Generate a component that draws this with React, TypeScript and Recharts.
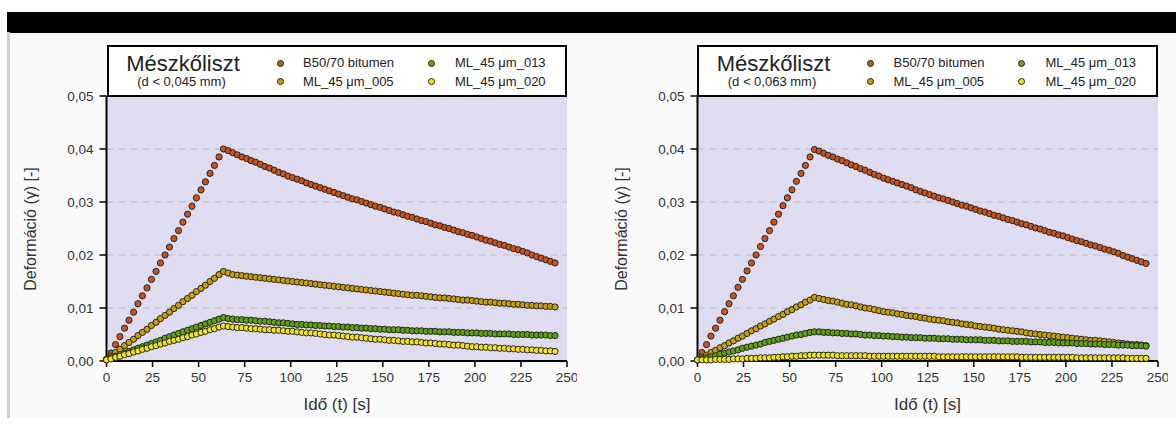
import { ScatterChart, Scatter, XAxis, YAxis, CartesianGrid } from "recharts";

// time stamps [s] shared by every series (loading phase up to ~63.5 s, then recovery)
const TIME = [
  0, 2.4, 4.9, 7.3, 9.8, 12.2, 14.7, 17.1, 19.5, 22, 24.4, 26.9, 29.3, 31.8, 34.2, 36.6, 39.1, 41.5, 44, 46.4, 48.8, 51.3, 53.7, 56.2, 58.6, 61.1, 63.5,
  66, 68.5, 71, 73.5, 76, 78.5, 81, 83.5, 86, 88.5, 91, 93.5, 96, 98.5,
  101, 103.5, 106, 108.5, 111, 113.5, 116, 118.5, 121, 123.5,
  126, 128.5, 131, 133.5, 136, 138.5, 141, 143.5, 146, 148.5,
  151, 153.5, 156, 158.5, 161, 163.5, 166, 168.5, 171, 173.5,
  176, 178.5, 181, 183.5, 186, 188.5, 191, 193.5, 196, 198.5,
  201, 203.5, 206, 208.5, 211, 213.5, 216, 218.5, 221, 223.5,
  226, 228.5, 231, 233.5, 236, 238.5, 241, 243.5,
];

const X_TICKS = [0, 25, 50, 75, 100, 125, 150, 175, 200, 225, 250];
const Y_TICKS = [0, 0.01, 0.02, 0.03, 0.04, 0.05];

const NAMES = ["B50/70 bitumen", "ML_45 μm_005", "ML_45 μm_013", "ML_45 μm_020"];
const COLORS = ["#cc5418", "#c9a106", "#62a20e", "#f4e31f"];

// d < 0,045 mm
const B5070_045 = [
  0.0002, 0.0015, 0.0031, 0.0046, 0.0062, 0.0077, 0.0092, 0.0108, 0.0123, 0.0138, 0.0154, 0.0169, 0.0185, 0.0200, 0.0215, 0.0231, 0.0246, 0.0262, 0.0277, 0.0292, 0.0308, 0.0323, 0.0338, 0.0354, 0.0369, 0.0385, 0.0400,
  0.0397, 0.0393, 0.0389, 0.0385, 0.0382, 0.0378, 0.0375, 0.0371, 0.0367, 0.0364, 0.0360, 0.0356, 0.0353, 0.0349,
  0.0346, 0.0343, 0.0340, 0.0336, 0.0333, 0.0330, 0.0327, 0.0324, 0.0321, 0.0318,
  0.0315, 0.0312, 0.0309, 0.0306, 0.0304, 0.0301, 0.0298, 0.0295, 0.0292, 0.0290,
  0.0287, 0.0284, 0.0281, 0.0279, 0.0276, 0.0273, 0.0271, 0.0268, 0.0265, 0.0263,
  0.0260, 0.0257, 0.0255, 0.0252, 0.0250, 0.0247, 0.0244, 0.0242, 0.0239, 0.0237,
  0.0234, 0.0231, 0.0228, 0.0226, 0.0223, 0.0220, 0.0218, 0.0215, 0.0212, 0.0210,
  0.0207, 0.0204, 0.0200, 0.0197, 0.0194, 0.0191, 0.0188, 0.0185,
];
const ML005_045 = [
  0.0003, 0.0009, 0.0016, 0.0022, 0.0029, 0.0035, 0.0041, 0.0048, 0.0054, 0.0060, 0.0067, 0.0073, 0.0080, 0.0086, 0.0092, 0.0099, 0.0105, 0.0112, 0.0118, 0.0124, 0.0131, 0.0137, 0.0143, 0.0150, 0.0156, 0.0163, 0.0169,
  0.0166, 0.0163, 0.0162, 0.0161, 0.0160, 0.0159, 0.0158, 0.0157, 0.0156, 0.0155, 0.0154, 0.0153, 0.0152, 0.0151,
  0.0150, 0.0149, 0.0148, 0.0147, 0.0146, 0.0145, 0.0144, 0.0143, 0.0142, 0.0141,
  0.0140, 0.0139, 0.0138, 0.0137, 0.0136, 0.0135, 0.0134, 0.0133, 0.0132, 0.0131,
  0.0130, 0.0129, 0.0128, 0.0127, 0.0126, 0.0125, 0.0124, 0.0124, 0.0123, 0.0122,
  0.0121, 0.0120, 0.0119, 0.0119, 0.0118, 0.0117, 0.0116, 0.0115, 0.0115, 0.0114,
  0.0113, 0.0112, 0.0111, 0.0111, 0.0110, 0.0109, 0.0109, 0.0108, 0.0107, 0.0107,
  0.0106, 0.0105, 0.0105, 0.0104, 0.0104, 0.0103, 0.0103, 0.0102,
];
const ML013_045 = [
  0.0003, 0.0006, 0.0009, 0.0012, 0.0015, 0.0018, 0.0021, 0.0024, 0.0027, 0.0030, 0.0033, 0.0036, 0.0039, 0.0043, 0.0046, 0.0049, 0.0052, 0.0055, 0.0058, 0.0061, 0.0064, 0.0067, 0.0070, 0.0073, 0.0076, 0.0079, 0.0082,
  0.0080, 0.0079, 0.0078, 0.0078, 0.0077, 0.0077, 0.0076, 0.0075, 0.0075, 0.0074, 0.0073, 0.0072, 0.0072, 0.0071,
  0.0070, 0.0069, 0.0069, 0.0068, 0.0068, 0.0067, 0.0067, 0.0066, 0.0066, 0.0065,
  0.0065, 0.0064, 0.0064, 0.0063, 0.0063, 0.0062, 0.0062, 0.0061, 0.0061, 0.0060,
  0.0060, 0.0059, 0.0059, 0.0059, 0.0058, 0.0058, 0.0057, 0.0057, 0.0057, 0.0056,
  0.0056, 0.0056, 0.0055, 0.0055, 0.0055, 0.0054, 0.0054, 0.0054, 0.0053, 0.0053,
  0.0053, 0.0052, 0.0052, 0.0052, 0.0051, 0.0051, 0.0051, 0.0051, 0.0050, 0.0050,
  0.0050, 0.0050, 0.0049, 0.0049, 0.0049, 0.0049, 0.0048, 0.0048,
];
const ML020_045 = [
  0.0002, 0.0004, 0.0007, 0.0009, 0.0012, 0.0014, 0.0017, 0.0019, 0.0022, 0.0024, 0.0027, 0.0029, 0.0032, 0.0034, 0.0037, 0.0039, 0.0041, 0.0044, 0.0046, 0.0049, 0.0051, 0.0054, 0.0056, 0.0059, 0.0061, 0.0064, 0.0066,
  0.0065, 0.0064, 0.0063, 0.0063, 0.0062, 0.0061, 0.0061, 0.0060, 0.0059, 0.0059, 0.0058, 0.0058, 0.0057, 0.0056,
  0.0056, 0.0055, 0.0054, 0.0053, 0.0053, 0.0052, 0.0051, 0.0050, 0.0049, 0.0049,
  0.0048, 0.0047, 0.0046, 0.0045, 0.0045, 0.0044, 0.0043, 0.0042, 0.0041, 0.0041,
  0.0040, 0.0039, 0.0039, 0.0038, 0.0037, 0.0037, 0.0036, 0.0036, 0.0035, 0.0034,
  0.0034, 0.0033, 0.0032, 0.0032, 0.0031, 0.0030, 0.0030, 0.0029, 0.0028, 0.0027,
  0.0027, 0.0026, 0.0026, 0.0025, 0.0025, 0.0024, 0.0024, 0.0023, 0.0023, 0.0022,
  0.0022, 0.0021, 0.0021, 0.0020, 0.0020, 0.0019, 0.0019, 0.0018,
];

// d < 0,063 mm
const B5070_063 = [
  0.0002, 0.0016, 0.0031, 0.0047, 0.0062, 0.0077, 0.0093, 0.0108, 0.0123, 0.0139, 0.0154, 0.0170, 0.0185, 0.0200, 0.0216, 0.0231, 0.0246, 0.0262, 0.0277, 0.0293, 0.0308, 0.0323, 0.0339, 0.0354, 0.0369, 0.0385, 0.0399,
  0.0396, 0.0392, 0.0388, 0.0385, 0.0381, 0.0378, 0.0374, 0.0370, 0.0367, 0.0363, 0.0360, 0.0356, 0.0352, 0.0349,
  0.0345, 0.0342, 0.0339, 0.0336, 0.0333, 0.0330, 0.0327, 0.0323, 0.0320, 0.0317,
  0.0314, 0.0311, 0.0308, 0.0306, 0.0303, 0.0300, 0.0297, 0.0294, 0.0292, 0.0289,
  0.0286, 0.0283, 0.0281, 0.0278, 0.0275, 0.0273, 0.0270, 0.0267, 0.0265, 0.0262,
  0.0259, 0.0257, 0.0254, 0.0251, 0.0249, 0.0246, 0.0243, 0.0241, 0.0238, 0.0236,
  0.0233, 0.0230, 0.0227, 0.0225, 0.0222, 0.0219, 0.0217, 0.0214, 0.0211, 0.0209,
  0.0206, 0.0203, 0.0199, 0.0196, 0.0193, 0.0190, 0.0187, 0.0184,
];
const ML005_063 = [
  0.0002, 0.0007, 0.0011, 0.0016, 0.0020, 0.0025, 0.0029, 0.0034, 0.0038, 0.0043, 0.0047, 0.0052, 0.0057, 0.0061, 0.0066, 0.0070, 0.0075, 0.0079, 0.0084, 0.0088, 0.0093, 0.0097, 0.0102, 0.0106, 0.0111, 0.0115, 0.0120,
  0.0118, 0.0116, 0.0114, 0.0113, 0.0111, 0.0109, 0.0107, 0.0106, 0.0104, 0.0102, 0.0100, 0.0099, 0.0097, 0.0095,
  0.0093, 0.0092, 0.0091, 0.0089, 0.0088, 0.0086, 0.0085, 0.0084, 0.0082, 0.0081,
  0.0079, 0.0078, 0.0077, 0.0076, 0.0074, 0.0073, 0.0072, 0.0070, 0.0069, 0.0068,
  0.0066, 0.0065, 0.0064, 0.0063, 0.0062, 0.0060, 0.0059, 0.0058, 0.0057, 0.0056,
  0.0055, 0.0053, 0.0052, 0.0051, 0.0050, 0.0049, 0.0048, 0.0047, 0.0046, 0.0045,
  0.0044, 0.0043, 0.0042, 0.0041, 0.0040, 0.0039, 0.0039, 0.0038, 0.0037, 0.0036,
  0.0035, 0.0034, 0.0033, 0.0032, 0.0031, 0.0031, 0.0030, 0.0029,
];
const ML013_063 = [
  0.0002, 0.0004, 0.0006, 0.0008, 0.0010, 0.0013, 0.0015, 0.0017, 0.0019, 0.0021, 0.0024, 0.0026, 0.0028, 0.0030, 0.0032, 0.0035, 0.0037, 0.0039, 0.0041, 0.0043, 0.0045, 0.0047, 0.0049, 0.0050, 0.0052, 0.0054, 0.0055,
  0.0055, 0.0054, 0.0054, 0.0053, 0.0053, 0.0052, 0.0052, 0.0051, 0.0051, 0.0050, 0.0049, 0.0049, 0.0048, 0.0048,
  0.0047, 0.0047, 0.0046, 0.0046, 0.0045, 0.0045, 0.0044, 0.0044, 0.0044, 0.0043,
  0.0043, 0.0043, 0.0042, 0.0042, 0.0042, 0.0041, 0.0041, 0.0041, 0.0040, 0.0040,
  0.0040, 0.0040, 0.0039, 0.0039, 0.0039, 0.0038, 0.0038, 0.0038, 0.0037, 0.0037,
  0.0037, 0.0037, 0.0036, 0.0036, 0.0036, 0.0035, 0.0035, 0.0035, 0.0034, 0.0034,
  0.0034, 0.0034, 0.0033, 0.0033, 0.0033, 0.0032, 0.0032, 0.0032, 0.0031, 0.0031,
  0.0031, 0.0030, 0.0030, 0.0030, 0.0029, 0.0029, 0.0029, 0.0028,
];
const ML020_063 = [
  0.0002, 0.0002, 0.0002, 0.0002, 0.0003, 0.0003, 0.0003, 0.0003, 0.0004, 0.0004, 0.0004, 0.0005, 0.0005, 0.0005, 0.0006, 0.0006, 0.0006, 0.0007, 0.0007, 0.0008, 0.0008, 0.0009, 0.0009, 0.0010, 0.0010, 0.0011, 0.0011,
  0.0011, 0.0011, 0.0011, 0.0011, 0.0010, 0.0010, 0.0010, 0.0010, 0.0010, 0.0010, 0.0010, 0.0009, 0.0009, 0.0009,
  0.0009, 0.0009, 0.0009, 0.0009, 0.0009, 0.0009, 0.0009, 0.0009, 0.0009, 0.0009,
  0.0009, 0.0009, 0.0008, 0.0008, 0.0008, 0.0008, 0.0008, 0.0008, 0.0008, 0.0008,
  0.0008, 0.0008, 0.0008, 0.0008, 0.0008, 0.0008, 0.0008, 0.0008, 0.0008, 0.0008,
  0.0007, 0.0007, 0.0007, 0.0007, 0.0007, 0.0007, 0.0007, 0.0007, 0.0007, 0.0007,
  0.0007, 0.0007, 0.0006, 0.0006, 0.0006, 0.0006, 0.0006, 0.0006, 0.0006, 0.0006,
  0.0006, 0.0006, 0.0006, 0.0005, 0.0005, 0.0005, 0.0005, 0.0005,
];

const FONT = '"Liberation Sans", Arial, sans-serif';
const TEXT = "#333";

const toPoints = (vals: number[]) => vals.map((v, i) => ({ t: TIME[i], v }));
const fmtY = (v: number) => v.toFixed(2).replace(".", ",");

const dot = (color: string) => (p: any) =>
  p.cx == null ? <g /> : <circle cx={p.cx} cy={p.cy} r={3.1} fill={color} stroke="#222" strokeWidth={1} />;

function LegendDot({ x, y, color }: { x: number; y: number; color: string }) {
  return (
    <div style={{ position: "absolute", left: x - 3.5, top: y - 3.5, width: 7, height: 7, borderRadius: "50%", background: color, border: "1px solid #222", boxSizing: "border-box" }} />
  );
}

function Panel({ offset, subtitle, series }: { offset: number; subtitle: string; series: number[][] }) {
  const label = (text: string, x: number, y: number, size: number) => (
    <div style={{ position: "absolute", left: offset + x, top: y, fontSize: size, lineHeight: `${size}px`, whiteSpace: "nowrap", color: "#222" }}>{text}</div>
  );
  return (
    <>
      <div style={{ position: "absolute", left: offset + 40, top: 0 }}>
        <ScatterChart width={537} height={438} margin={{ top: 96, right: 10, bottom: 47, left: 6.5 }}>
          <CartesianGrid horizontal vertical={false} fill="#dfdcf2" fillOpacity={1} stroke="#c8c5cc" strokeDasharray="7 5" strokeWidth={1.5} />
          <XAxis
            type="number" dataKey="t" domain={[0, 250]} ticks={X_TICKS} interval={0} height={30}
            tickSize={6} tickMargin={5}
            axisLine={{ stroke: "#000", strokeWidth: 2 }} tickLine={{ stroke: "#000", strokeWidth: 1.5 }}
            tick={{ fill: TEXT, fontSize: 13.5, fontFamily: FONT }}
          />
          <XAxis xAxisId="top" orientation="top" type="number" domain={[0, 250]} height={0} tick={false} tickLine={false} axisLine={{ stroke: "#000", strokeWidth: 2 }} />
          <YAxis
            type="number" dataKey="v" domain={[0, 0.05]} ticks={Y_TICKS} interval={0} width={60}
            tickSize={7} tickMargin={6} tickFormatter={fmtY}
            axisLine={{ stroke: "#000", strokeWidth: 2 }} tickLine={{ stroke: "#000", strokeWidth: 1.5 }}
            tick={{ fill: TEXT, fontSize: 13.5, fontFamily: FONT }}
          />
          <YAxis yAxisId="right" orientation="right" type="number" domain={[0, 0.05]} width={0} tick={false} tickLine={false} axisLine={{ stroke: "#000", strokeWidth: 2 }} />
          {series.map((vals, i) => (
            <Scatter key={NAMES[i]} name={NAMES[i]} data={toPoints(vals)} shape={dot(COLORS[i])} isAnimationActive={false} />
          ))}
        </ScatterChart>
      </div>

      {/* header box with title and legend */}
      <div style={{ position: "absolute", left: offset + 106.5, top: 45, width: 460.5, height: 52, border: "2px solid #000", boxSizing: "border-box", background: "#fff" }} />
      <div style={{ position: "absolute", left: offset + 123, top: 54, width: 120, textAlign: "center", fontSize: 22, lineHeight: "20px", color: "#222" }}>Mészkőliszt</div>
      <div style={{ position: "absolute", left: offset + 121.5, top: 75, width: 120, textAlign: "center", fontSize: 13, lineHeight: "13px", color: "#222" }}>{subtitle}</div>
      <LegendDot x={offset + 280} y={63.3} color={COLORS[0]} />
      <LegendDot x={offset + 280} y={81.7} color={COLORS[1]} />
      <LegendDot x={offset + 431} y={63.3} color={COLORS[2]} />
      <LegendDot x={offset + 431} y={81.7} color={COLORS[3]} />
      {label(NAMES[0], 303, 56.3, 13)}
      {label(NAMES[1], 303, 74.7, 13)}
      {label(NAMES[2], 455, 56.3, 13)}
      {label(NAMES[3], 455, 74.7, 13)}

      {/* axis titles */}
      <div style={{ position: "absolute", left: offset + 31 - 100, top: 228.5 - 10, width: 200, height: 20, lineHeight: "20px", textAlign: "center", fontSize: 16, color: TEXT, transform: "rotate(-90deg)" }}>Deformáció (γ) [-]</div>
      <div style={{ position: "absolute", left: offset + 337 - 100, top: 405 - 10, width: 200, height: 20, lineHeight: "20px", textAlign: "center", fontSize: 17, color: TEXT }}>Idő (t) [s]</div>
    </>
  );
}

export default function App() {
  return (
    <div style={{ position: "absolute", left: 0, top: 0, width: 1176, height: 438, background: "#fff", overflow: "hidden", fontFamily: FONT }}>
      <div style={{ position: "absolute", left: 10, top: 32, width: 1166, height: 386, background: "#fafafa" }} />
      <div style={{ position: "absolute", left: 7, top: 12, width: 1169, height: 21, background: "#000" }} />
      <div style={{ position: "absolute", left: 7, top: 32, width: 3, height: 386, background: "#cfcfcf" }} />
      <Panel offset={0} subtitle="(d < 0,045 mm)" series={[B5070_045, ML005_045, ML013_045, ML020_045]} />
      <Panel offset={590.5} subtitle="(d < 0,063 mm)" series={[B5070_063, ML005_063, ML013_063, ML020_063]} />
    </div>
  );
}
